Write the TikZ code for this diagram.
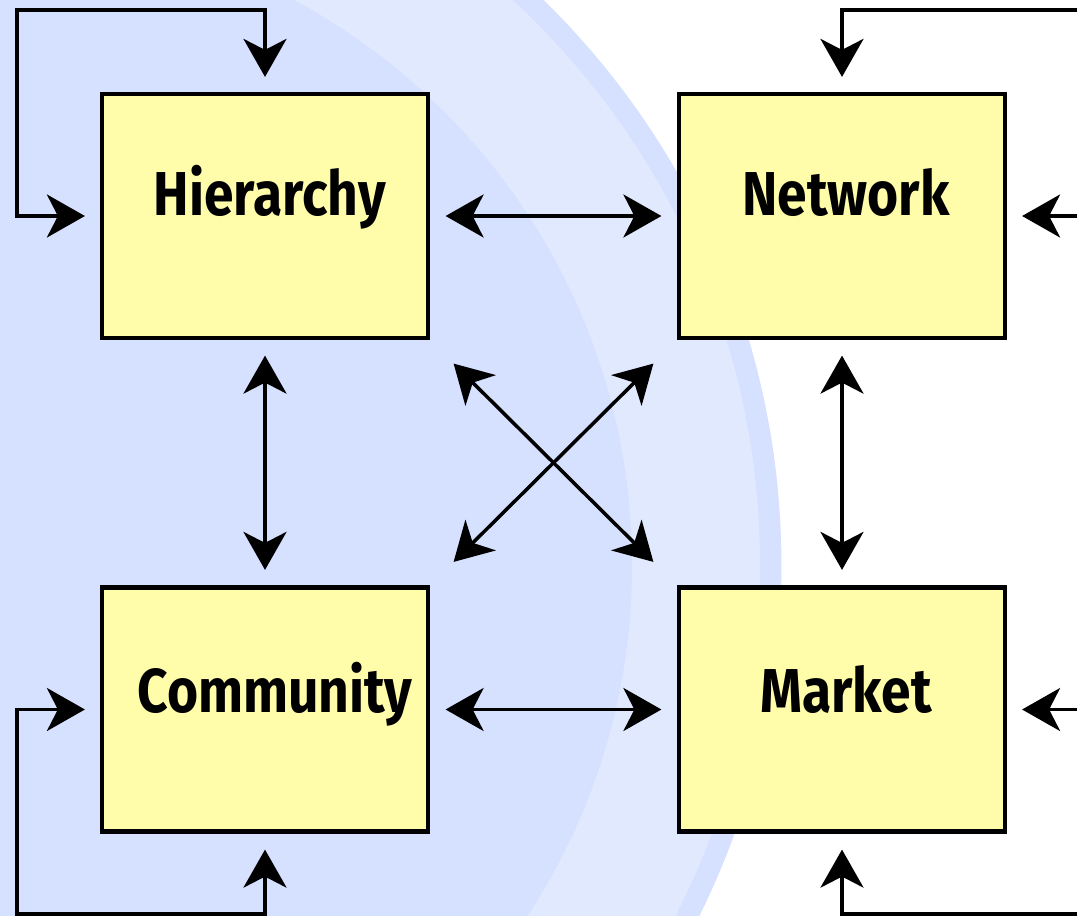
\documentclass[tikz,border=0pt]{standalone}
\usepackage{fontspec}
\newfontfamily\lblfont{Fira Sans}[FakeStretch=0.86]
\usetikzlibrary{arrows.meta,calc}
\definecolor{bgdark}{RGB}{214,224,255}
\definecolor{bglight}{RGB}{224,233,253}
\definecolor{boxfill}{RGB}{255,253,170}
\begin{document}
\begin{tikzpicture}[x=1pt,y=-1pt,
  box/.style={draw=black, line width=4.2pt, fill=boxfill, minimum width=326pt, minimum height=244pt, inner sep=0pt},
  lbl/.style={font=\lblfont\bfseries\fontsize{62}{62}\selectfont, inner sep=0pt, anchor=base},
  conn/.style={line width=3.5pt, {Stealth[length=38pt,width=43pt,inset=11pt]}-{Stealth[length=38pt,width=43pt,inset=11pt]}},
]
\useasboundingbox (0,0) rectangle (1077,916);
\clip (0,0) rectangle (1077,916);
% background
\fill[bgdark] (-8.6,565) circle[radius=790pt];
\fill[bglight] (-8.6,565) circle[radius=768.6pt];
\fill[bgdark] (-8.6,565) circle[radius=640.6pt];
% boxes
\node[box] (H) at (265,216) {};
\node[box] (N) at (842,216) {};
\node[box] (C) at (265,709.5) {};
\node[box] (M) at (842,709.5) {};
% labels
\node[lbl] (Ht) at (270,215) {Hierarchy};
\node[lbl] (Nt) at (846,215) {Network};
\node[lbl] (Ct) at (275,712) {Community};
\node[lbl] (Mt) at (846,712) {Market};
% corner coordinates of loops
\coordinate (htl) at (17,10);
\coordinate (ntr) at (1095,10);
\coordinate (cbl) at (17,914);
\coordinate (mbr) at (1095,914);
% loops
\draw[conn] ($(H.north)+(0,-15)$) |- (htl) |- ($(H.west)+(-15,0)$);
\draw[conn] ($(N.north)+(0,-15)$) |- (ntr) |- ($(N.east)+(15,0)$);
\draw[conn] ($(C.west)+(-15,0)$) -| (cbl) -| ($(C.south)+(0,16)$);
\draw[conn] ($(M.south)+(0,16)$) |- (mbr) |- ($(M.east)+(15,0)$);
% straight connections
\draw[conn] ($(H.east)+(15.5,0)$) -- ($(N.west)+(-15.5,0)$);
\draw[conn] ($(C.east)+(15.5,0)$) -- ($(M.west)+(-15.5,0)$);
\draw[conn] ($(H.south)+(0,15.5)$) -- ($(C.north)+(0,-15.5)$);
\draw[conn] ($(N.south)+(0,15.5)$) -- ($(M.north)+(0,-15.5)$);
% diagonals
\draw[conn] ($(H.south east)+(23.5,23.5)$) -- ($(M.north west)+(-23.5,-23.5)$);
\draw[conn] ($(C.north east)+(23.5,-23.5)$) -- ($(N.south west)+(-23.5,23.5)$);
\end{tikzpicture}
\end{document}
